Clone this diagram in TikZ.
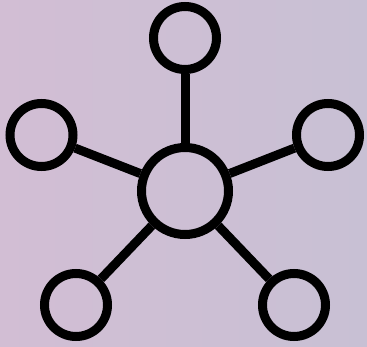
\documentclass[tikz,border=0pt]{standalone}
\definecolor{bgA}{RGB}{210,190,212}
\definecolor{bgB}{RGB}{200,192,212}
\begin{document}
\begin{tikzpicture}[x=1pt,y=-1pt,
  hubnode/.style={circle,draw=black,line width=9pt,inner sep=0pt,minimum size=87pt},
  leafnode/.style={circle,draw=black,line width=9pt,inner sep=0pt,minimum size=63pt},
  spoke/.style={draw=black,line width=9pt}]
\shade[left color=bgA,right color=bgB] (0,0) rectangle (367,347);
\useasboundingbox (0,0) rectangle (367,347);
\node[hubnode] (hub) at (185,191) {};
\node[leafnode] (top) at (185,38) {};
\node[leafnode] (left) at (41.5,135) {};
\node[leafnode] (right) at (328,135) {};
\node[leafnode] (bl) at (76,305) {};
\node[leafnode] (br) at (294,305) {};
\foreach \n in {top,left,right,bl,br}{\draw[spoke] (hub) -- (\n);}
\end{tikzpicture}
\end{document}
